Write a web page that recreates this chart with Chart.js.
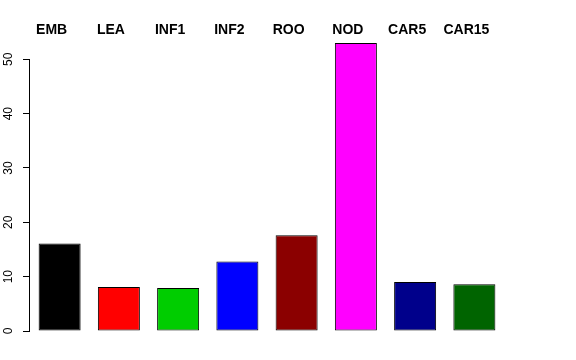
<!DOCTYPE html>
<html>
<head>
<meta charset="utf-8">
<script src="https://cdn.jsdelivr.net/npm/chart.js@4"></script>
<style>
  body { margin: 0; background: #fff; }
  #wrap { width: 576px; height: 360px; }
</style>
</head>
<body>
<div id="wrap"><canvas id="chart" width="576" height="360"></canvas></div>
<script>
const tissues = ['EMB', 'LEA', 'INF1', 'INF2', 'ROO', 'NOD', 'CAR5', 'CAR15'];
const counts = [16.1, 8.1, 7.9, 12.8, 17.6, 53.0, 9.0, 8.6];
const barColors = ['#000000', '#FF0000', '#00CD00', '#0000FF', '#8B0000', '#FF00FF', '#00008B', '#006400'];
const yTicks = [0, 10, 20, 30, 40, 50];

const fontFamily = '"Liberation Sans", Arial, Helvetica, sans-serif';

// partial y axis line from first to last tick, the way R draws it
const axisLine = {
  id: 'axisLine',
  afterDraw(chart) {
    const y = chart.scales.y;
    const ctx = chart.ctx;
    const x = Math.round(y.right) - 0.5;
    ctx.save();
    ctx.strokeStyle = '#000';
    ctx.lineWidth = 1;
    ctx.beginPath();
    ctx.moveTo(x, y.getPixelForValue(yTicks[0]));
    ctx.lineTo(x, y.getPixelForValue(yTicks[yTicks.length - 1]));
    ctx.stroke();
    ctx.restore();
  }
};

new Chart(document.getElementById('chart').getContext('2d'), {
  type: 'bar',
  data: {
    labels: tissues,
    datasets: [{
      data: counts,
      backgroundColor: barColors,
      borderColor: '#000',
      borderWidth: 1,
      borderSkipped: false,
      barPercentage: 0.709,
      categoryPercentage: 1
    }]
  },
  options: {
    responsive: false,
    animation: false,
    layout: { padding: { left: 0, right: 72, top: 0, bottom: 29 } },
    plugins: { legend: { display: false }, tooltip: { enabled: false } },
    scales: {
      x: {
        position: 'top',
        afterFit: (scale) => { scale.height = 40; },
        grid: { display: false, drawTicks: false },
        border: { display: false },
        ticks: {
          autoSkip: false,
          maxRotation: 0,
          labelOffset: -8,
          padding: 1,
          color: '#000',
          font: { family: fontFamily, size: 14, weight: 'bold' }
        }
      },
      y: {
        min: 0,
        max: 53.55,
        afterBuildTicks: (scale) => { scale.ticks = yTicks.map(v => ({ value: v })); },
        afterFit: (scale) => { scale.width = 30; },
        grid: { drawOnChartArea: false, drawTicks: true, tickLength: 7, color: '#000', tickColor: '#000' },
        border: { display: false },
        ticks: {
          minRotation: 90,
          maxRotation: 90,
          crossAlign: 'center',
          padding: 8,
          color: '#000',
          font: { family: fontFamily, size: 12 }
        }
      }
    }
  },
  plugins: [axisLine]
});
</script>
</body>
</html>
